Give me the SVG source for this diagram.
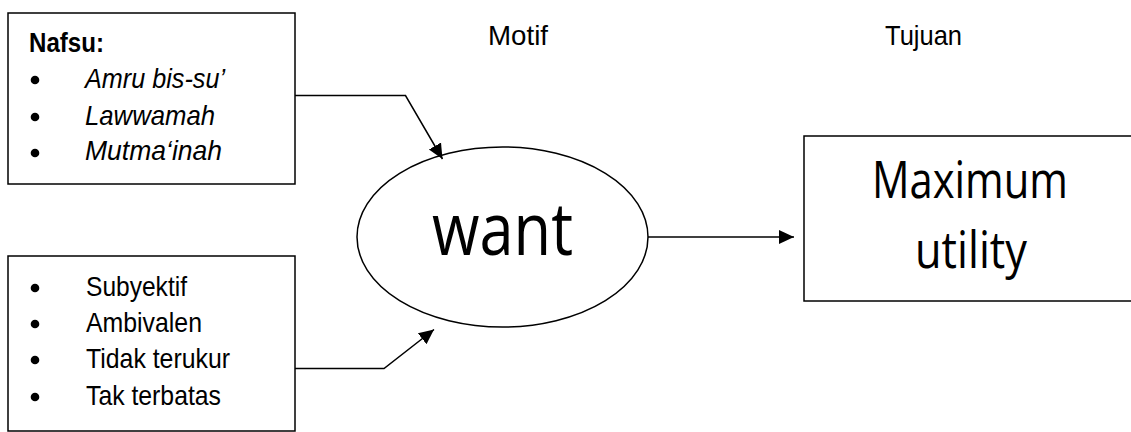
<svg xmlns="http://www.w3.org/2000/svg" width="1131" height="432" viewBox="0 0 1131 432">
<style>
.box{fill:#fff;stroke:#000;stroke-width:1.5}
.ln{fill:none;stroke:#000;stroke-width:1.5}
.t{font-family:"Open Sans","Noto Sans",sans-serif;fill:#000}
.s{font-family:"Liberation Sans",Arial,sans-serif;fill:#000;font-size:28px}
.i{font-style:italic}
.bul{fill:#000}
</style>
<defs>
<marker id="ah" markerUnits="userSpaceOnUse" markerWidth="16" markerHeight="16" viewBox="0 0 16 16" refX="15" refY="8" orient="auto">
<path d="M0,1 L15,8 L0,15 Z" fill="#000"/>
</marker>
</defs>
<rect width="1131" height="432" fill="#fff"/>
<g id="label-motif"><text class="s" x="488" y="45" textLength="60" lengthAdjust="spacingAndGlyphs">Motif</text></g>
<g id="label-tujuan"><text class="s" x="885" y="45" textLength="77" lengthAdjust="spacingAndGlyphs">Tujuan</text></g>
<g id="nafsu">
<rect class="box" x="8" y="13" width="287" height="171"/>
<text class="s" x="29" y="52" font-weight="bold" textLength="75" lengthAdjust="spacingAndGlyphs">Nafsu:</text>
<circle class="bul" cx="35" cy="80" r="4.3"/>
<circle class="bul" cx="35" cy="117" r="4.3"/>
<circle class="bul" cx="35" cy="153" r="4.3"/>
<text class="s i" x="85" y="88" textLength="140" lengthAdjust="spacingAndGlyphs">Amru bis-su’</text>
<text class="s i" x="85" y="125" textLength="130" lengthAdjust="spacingAndGlyphs">Lawwamah</text>
<text class="s i" x="85" y="160" textLength="137" lengthAdjust="spacingAndGlyphs">Mutma‘inah</text>
</g>
<g id="sifat">
<rect class="box" x="8" y="256" width="287" height="175"/>
<circle class="bul" cx="35" cy="288" r="4.3"/>
<circle class="bul" cx="35" cy="324" r="4.3"/>
<circle class="bul" cx="35" cy="360" r="4.3"/>
<circle class="bul" cx="35" cy="397" r="4.3"/>
<text class="s" x="86" y="296" textLength="101" lengthAdjust="spacingAndGlyphs">Subyektif</text>
<text class="s" x="86" y="332" textLength="116" lengthAdjust="spacingAndGlyphs">Ambivalen</text>
<text class="s" x="86" y="368" textLength="144" lengthAdjust="spacingAndGlyphs">Tidak terukur</text>
<text class="s" x="86" y="405" textLength="135" lengthAdjust="spacingAndGlyphs">Tak terbatas</text>
</g>
<g id="want">
<ellipse class="box" cx="502.5" cy="237" rx="145.5" ry="90"/>
<text class="t" x="432" y="255" font-size="74" textLength="141" lengthAdjust="spacingAndGlyphs">want</text>
</g>
<g id="utility">
<rect class="box" x="804" y="136" width="340" height="165"/>
<text class="t" x="872" y="198" font-size="52" textLength="196" lengthAdjust="spacingAndGlyphs">Maximum</text>
<text class="t" x="915" y="268" font-size="52" textLength="112" lengthAdjust="spacingAndGlyphs">utility</text>
</g>
<g id="connectors">
<polyline class="ln" points="295,95.5 405.5,95.5 442.5,159" marker-end="url(#ah)"/>
<polyline class="ln" points="295,368.5 384,368.5 434,329.5" marker-end="url(#ah)"/>
<line class="ln" x1="648" y1="237" x2="794" y2="237" marker-end="url(#ah)"/>
</g>
</svg>
